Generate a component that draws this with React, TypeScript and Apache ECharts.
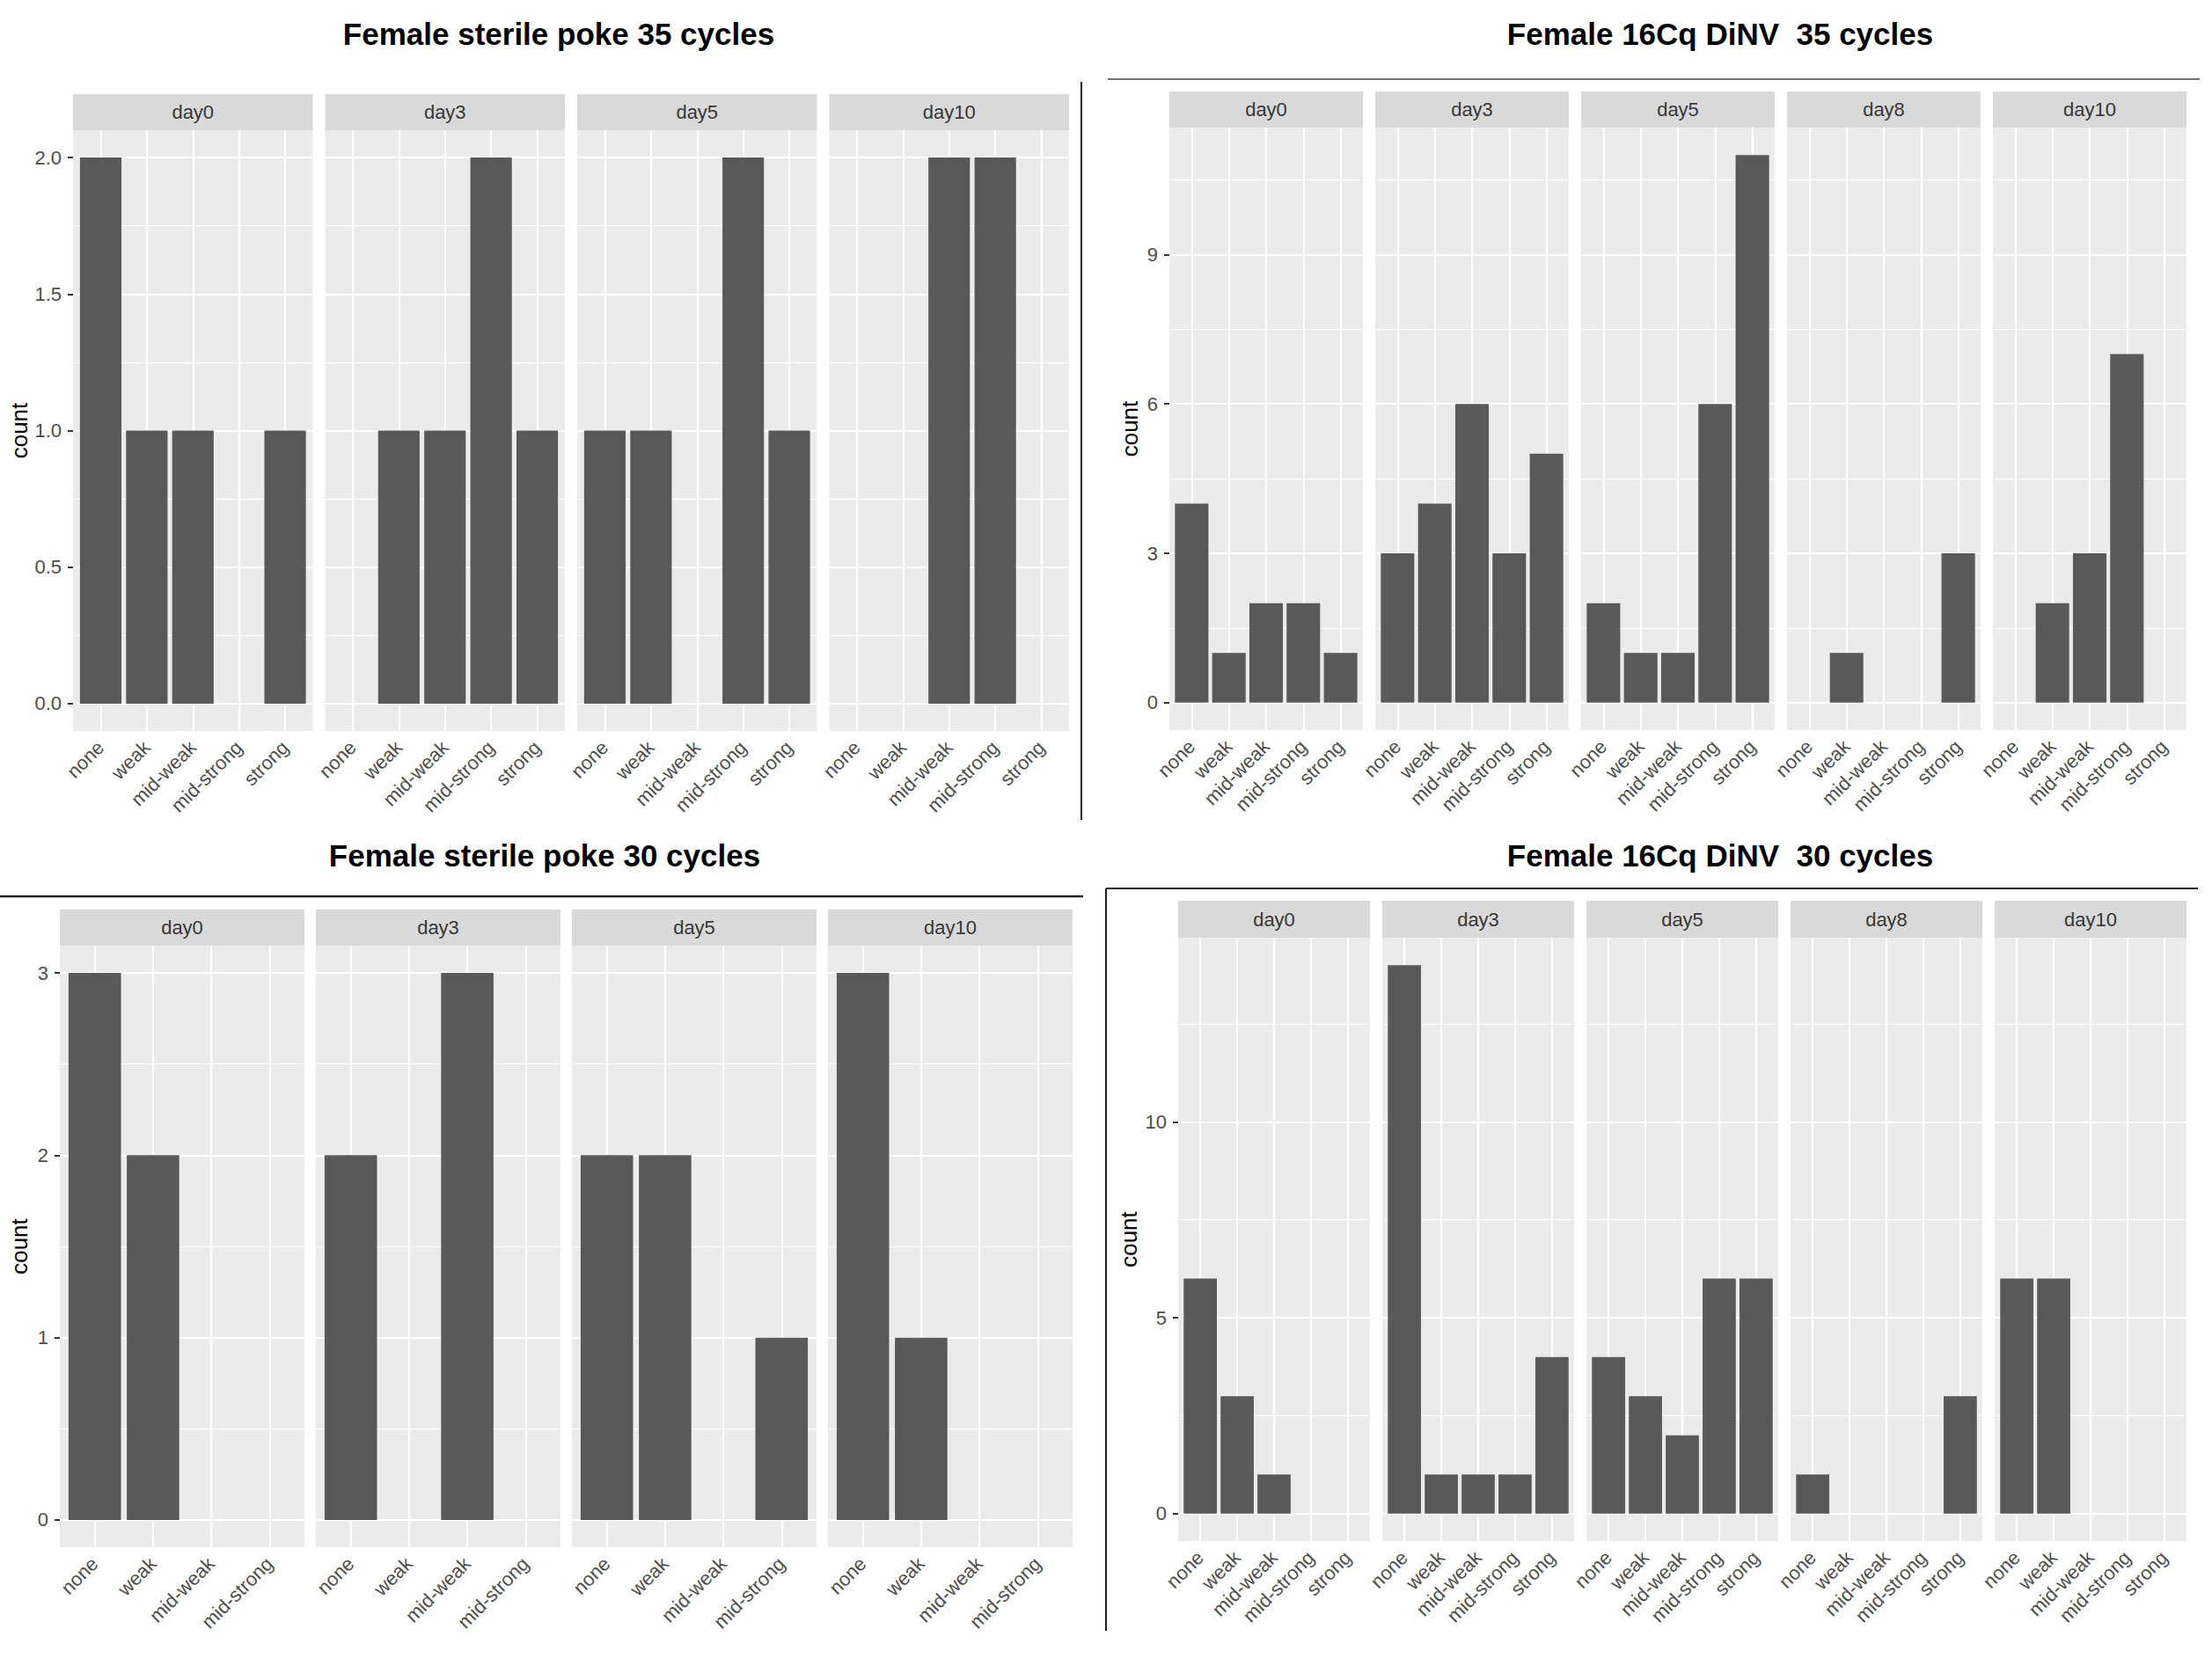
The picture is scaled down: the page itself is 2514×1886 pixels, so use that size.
import React, { useEffect, useRef } from "react";
import * as echarts from "echarts";

// ---------------- data ----------------
const CATS5 = ["none", "weak", "mid-weak", "mid-strong", "strong"];
const CATS4 = ["none", "weak", "mid-weak", "mid-strong"];

const TL_TITLE = "Female sterile poke 35 cycles";
const TL_DAYS = ["day0", "day3", "day5", "day10"];
const TL_VALUES = [
  [2, 1, 1, 0, 1],
  [0, 1, 1, 2, 1],
  [1, 1, 0, 2, 1],
  [0, 0, 2, 2, 0],
];
const TL_TICKS = [0, 0.5, 1, 1.5, 2];
const TL_MINOR = [0.25, 0.75, 1.25, 1.75];

const TR_TITLE = "Female 16Cq DiNV  35 cycles";
const TR_DAYS = ["day0", "day3", "day5", "day8", "day10"];
const TR_VALUES = [
  [4, 1, 2, 2, 1],
  [3, 4, 6, 3, 5],
  [2, 1, 1, 6, 11],
  [0, 1, 0, 0, 3],
  [0, 2, 3, 7, 0],
];
const TR_TICKS = [0, 3, 6, 9];
const TR_MINOR = [1.5, 4.5, 7.5, 10.5];

const BL_TITLE = "Female sterile poke 30 cycles";
const BL_DAYS = ["day0", "day3", "day5", "day10"];
const BL_VALUES = [
  [3, 2, 0, 0],
  [2, 0, 3, 0],
  [2, 2, 0, 1],
  [3, 1, 0, 0],
];
const BL_TICKS = [0, 1, 2, 3];
const BL_MINOR = [0.5, 1.5, 2.5];

const BR_TITLE = "Female 16Cq DiNV  30 cycles";
const BR_DAYS = ["day0", "day3", "day5", "day8", "day10"];
const BR_VALUES = [
  [6, 3, 1, 0, 0],
  [14, 1, 1, 1, 4],
  [4, 3, 2, 6, 6],
  [1, 0, 0, 0, 3],
  [6, 6, 0, 0, 0],
];
const BR_TICKS = [0, 5, 10];
const BR_MINOR = [2.5, 7.5, 12.5];

const Y_LABEL = "count";

// ---------------- layout / style ----------------
const FONT = '"Liberation Sans", Arial, Helvetica, sans-serif';
const PANEL_BG = "#EBEBEB";
const STRIP_BG = "#D9D9D9";
const BAR_COLOR = "#595959";
const TEXT_GREY = "#4D4D4D";
const TICK_COLOR = "#333333";

const PLOTS = [
  {
    title: TL_TITLE, days: TL_DAYS, values: TL_VALUES, cats: CATS5, ticks: TL_TICKS, minor: TL_MINOR, decimals: 1,
    layout: { left: 83, panelW: 272.5, gap: 14, stripTop: 107, panelTop: 148, panelBottom: 831, countX: 22, titleX: 635, titleY: 38 },
  },
  {
    title: TR_TITLE, days: TR_DAYS, values: TR_VALUES, cats: CATS5, ticks: TR_TICKS, minor: TR_MINOR, decimals: 0,
    layout: { left: 1329, panelW: 220, gap: 14, stripTop: 104, panelTop: 145, panelBottom: 830, countX: 1284, titleX: 1955, titleY: 38 },
  },
  {
    title: BL_TITLE, days: BL_DAYS, values: BL_VALUES, cats: CATS4, ticks: BL_TICKS, minor: BL_MINOR, decimals: 0,
    layout: { left: 68, panelW: 278, gap: 13, stripTop: 1034, panelTop: 1075, panelBottom: 1759, countX: 22, titleX: 619, titleY: 972 },
  },
  {
    title: BR_TITLE, days: BR_DAYS, values: BR_VALUES, cats: CATS5, ticks: BR_TICKS, minor: BR_MINOR, decimals: 0,
    layout: { left: 1339, panelW: 218, gap: 14, stripTop: 1024, panelTop: 1066, panelBottom: 1752, countX: 1283, titleX: 1955, titleY: 972 },
  },
];

const SEPARATORS = [
  { x1: 1259, y1: 90, x2: 2500, y2: 90, w: 1.4, c: "#444444" },
  { x1: 1229, y1: 93, x2: 1229, y2: 932, w: 2, c: "#222222" },
  { x1: 0, y1: 1019, x2: 1231, y2: 1019, w: 2.4, c: "#222222" },
  { x1: 1257, y1: 1010, x2: 1257, y2: 1854, w: 2, c: "#222222" },
  { x1: 1257, y1: 1010, x2: 2498, y2: 1010, w: 1.8, c: "#222222" },
];

function buildOption() {
  const grid: any[] = [];
  const xAxis: any[] = [];
  const yAxis: any[] = [];
  const series: any[] = [];
  const graphic: any[] = [];
  let idx = 0;

  PLOTS.forEach((p) => {
    const L = p.layout;
    const yMax = Math.max(...p.values.flat());
    const pad = yMax * 0.05;
    const n = p.cats.length;
    const catPos = p.cats.map((_, i) => i + 1);
    const unitPx = L.panelW / (n + 0.2);

    graphic.push({
      type: "text",
      x: L.titleX,
      y: L.titleY,
      style: { text: p.title, fontFamily: FONT, fontSize: 35, fontWeight: "bold", fill: "#000000", align: "center", verticalAlign: "middle" },
    });
    graphic.push({
      type: "text",
      x: L.countX,
      y: (L.panelTop + L.panelBottom) / 2,
      rotation: Math.PI / 2,
      style: { text: Y_LABEL, fontFamily: FONT, fontSize: 26, fill: "#000000", align: "center", verticalAlign: "middle" },
    });

    p.days.forEach((day, f) => {
      const left = L.left + f * (L.panelW + L.gap);
      grid.push({
        left,
        top: L.panelTop,
        width: L.panelW,
        height: L.panelBottom - L.panelTop,
        show: true,
        backgroundColor: PANEL_BG,
        borderWidth: 0,
      });
      graphic.push({
        type: "rect",
        shape: { x: left, y: L.stripTop, width: L.panelW, height: L.panelTop - L.stripTop },
        style: { fill: STRIP_BG },
      });
      graphic.push({
        type: "text",
        x: left + L.panelW / 2,
        y: (L.stripTop + L.panelTop) / 2,
        style: { text: day, fontFamily: FONT, fontSize: 22, fill: "#383838", align: "center", verticalAlign: "middle" },
      });

      xAxis.push({
        gridIndex: idx,
        type: "value",
        min: 0.4,
        max: n + 0.6,
        axisLine: { show: false },
        splitLine: { show: false },
        axisTick: { show: true, customValues: catPos, length: 6, lineStyle: { color: TICK_COLOR, width: 2 } },
        axisLabel: {
          show: true,
          customValues: catPos,
          formatter: (v: number) => p.cats[Math.round(v) - 1] ?? "",
          rotate: 45,
          fontSize: 22,
          color: TEXT_GREY,
          fontFamily: FONT,
          margin: 15,
        },
      });
      yAxis.push({
        gridIndex: idx,
        type: "value",
        min: -pad,
        max: yMax + pad,
        axisLine: { show: false },
        splitLine: { show: false },
        axisTick: { show: f === 0, customValues: p.ticks, length: 6, lineStyle: { color: TICK_COLOR, width: 2 } },
        axisLabel: {
          show: f === 0,
          customValues: p.ticks,
          formatter: (v: number) => v.toFixed(p.decimals),
          fontSize: 22,
          color: TEXT_GREY,
          fontFamily: FONT,
          margin: 13,
        },
      });

      const lines = [
        ...p.minor.map((v) => ({ yAxis: v, lineStyle: { width: 1.1 } })),
        ...p.ticks.map((v) => ({ yAxis: v, lineStyle: { width: 2.2 } })),
        ...catPos.map((v) => ({ xAxis: v, lineStyle: { width: 2.2 } })),
      ];

      series.push({
        type: "bar",
        xAxisIndex: idx,
        yAxisIndex: idx,
        data: p.values[f].map((v, i) => [catPos[i], v]),
        barWidth: unitPx * 0.9,
        itemStyle: { color: BAR_COLOR },
        silent: true,
        z: 2,
        markLine: {
          silent: true,
          z: 1,
          symbol: ["none", "none"],
          label: { show: false },
          emphasis: { disabled: true },
          lineStyle: { color: "#FFFFFF", type: "solid", width: 2 },
          data: lines,
        },
      });
      idx++;
    });
  });

  SEPARATORS.forEach((s) => {
    graphic.push({
      type: "line",
      shape: { x1: s.x1, y1: s.y1, x2: s.x2, y2: s.y2 },
      style: { stroke: s.c, lineWidth: s.w },
    });
  });

  return {
    animation: false,
    backgroundColor: "#FFFFFF",
    grid,
    xAxis,
    yAxis,
    series,
    graphic,
  };
}

export default function App() {
  const ref = useRef<HTMLDivElement>(null);
  useEffect(() => {
    if (!ref.current) return;
    const chart = echarts.init(ref.current, null, { renderer: "svg" });
    chart.setOption(buildOption() as any);
    return () => chart.dispose();
  }, []);
  return (
    <div
      ref={ref}
      style={{ position: "fixed", left: 0, top: 0, width: 2514, height: 1886, background: "#FFFFFF" }}
    />
  );
}
